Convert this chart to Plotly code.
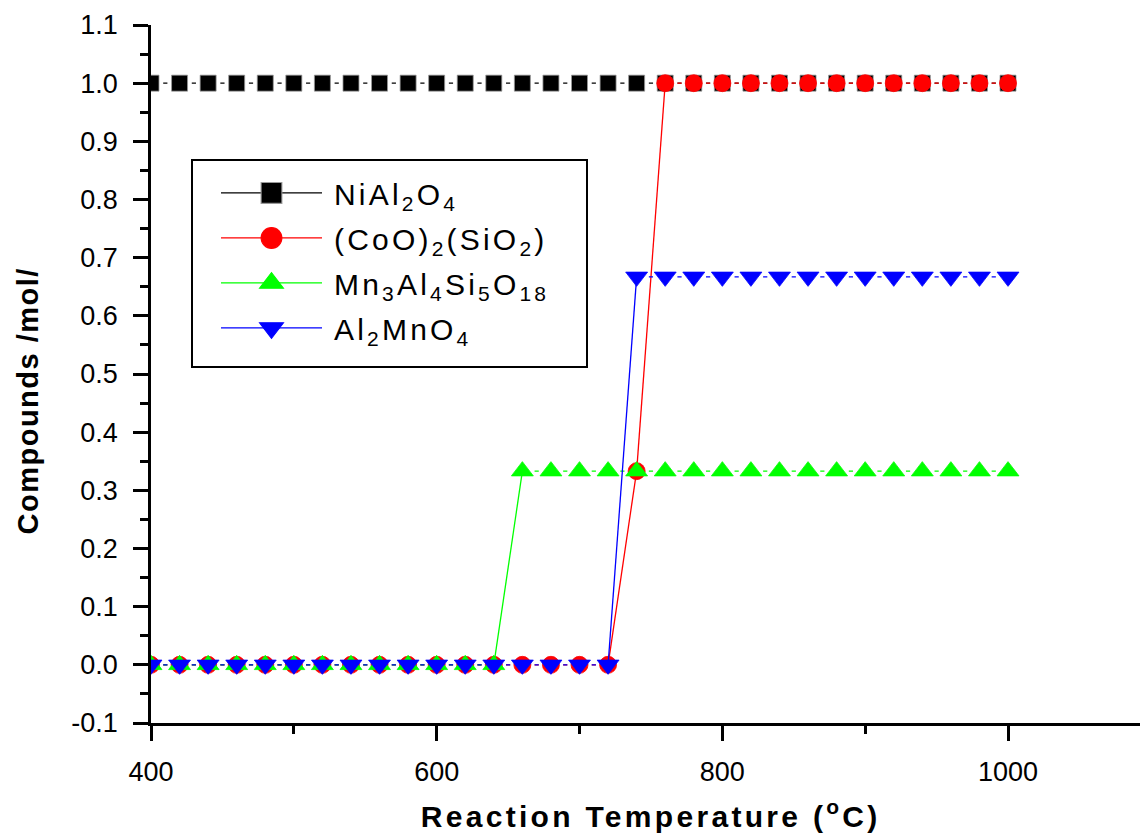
import plotly.graph_objects as go

# ---- data ----
temperature = [400, 420, 440, 460, 480, 500, 520, 540, 560, 580, 600, 620, 640, 660, 680, 700,
               720, 740, 760, 780, 800, 820, 840, 860, 880, 900, 920, 940, 960, 980, 1000]
nial2o4 = [1.0, 1.0, 1.0, 1.0, 1.0, 1.0, 1.0, 1.0, 1.0, 1.0, 1.0, 1.0, 1.0, 1.0, 1.0, 1.0,
           1.0, 1.0, 1.0, 1.0, 1.0, 1.0, 1.0, 1.0, 1.0, 1.0, 1.0, 1.0, 1.0, 1.0, 1.0]
coo2sio2 = [0, 0, 0, 0, 0, 0, 0, 0, 0, 0, 0, 0, 0, 0, 0, 0,
            0, 0.333, 1.0, 1.0, 1.0, 1.0, 1.0, 1.0, 1.0, 1.0, 1.0, 1.0, 1.0, 1.0, 1.0]
mn3al4si5o18 = [0, 0, 0, 0, 0, 0, 0, 0, 0, 0, 0, 0, 0, 0.333, 0.333, 0.333,
                0.333, 0.333, 0.333, 0.333, 0.333, 0.333, 0.333, 0.333, 0.333, 0.333, 0.333, 0.333, 0.333, 0.333, 0.333]
al2mno4 = [0, 0, 0, 0, 0, 0, 0, 0, 0, 0, 0, 0, 0, 0, 0, 0,
           0, 0.667, 0.667, 0.667, 0.667, 0.667, 0.667, 0.667, 0.667, 0.667, 0.667, 0.667, 0.667, 0.667, 0.667]

x_ticks = [400, 600, 800, 1000, 1100]
y_ticks = [-0.1, 0.0, 0.1, 0.2, 0.3, 0.4, 0.5, 0.6, 0.7, 0.8, 0.9, 1.0, 1.1]
y_ticklabels = ["-0.1", "0.0", "0.1", "0.2", "0.3", "0.4", "0.5", "0.6", "0.7", "0.8", "0.9", "1.0", "1.1"]

series_names = ["NiAl<sub>2</sub>O<sub>4</sub>",
                "(CoO)<sub>2</sub>(SiO<sub>2</sub>)",
                "Mn<sub>3</sub>Al<sub>4</sub>Si<sub>5</sub>O<sub>18</sub>",
                "Al<sub>2</sub>MnO<sub>4</sub>"]
series_values = [nial2o4, coo2sio2, mn3al4si5o18, al2mno4]
colors = ["#000000", "#FF0000", "#00FF00", "#0000FF"]
symbols = ["square", "circle", "triangle-up", "triangle-down"]
msizes = [16, 17, 19, 19]
mline = ["#999999", "#FF0000", "#00FF00", "#0000FF"]

FONT = "Liberation Sans, Arial, sans-serif"

# plot-area geometry (pixels) used to place the legend frame
L, T, W, H = 151, 25, 989, 698.2


def px_x(p):
    return (p - L) / W


def px_y(p):
    return (T + H - p) / H


fig = go.Figure()

for k, (name, vals, col, sym, ms, ml) in enumerate(
        zip(series_names, series_values, colors, symbols, msizes, mline)):
    grp = "g%d" % k
    flat_x, flat_y, step_x, step_y = [], [], [], []
    for i in range(len(temperature) - 1):
        seg_x = [temperature[i], temperature[i + 1], None]
        seg_y = [vals[i], vals[i + 1], None]
        if vals[i] == vals[i + 1]:
            flat_x += seg_x
            flat_y += seg_y
        else:
            step_x += seg_x
            step_y += seg_y
    fig.add_trace(go.Scatter(x=flat_x, y=flat_y, mode="lines", showlegend=False,
                             legendgroup=grp, hoverinfo="skip",
                             line=dict(color=col, width=1.3, dash="0px,12.2px,4.2px,40px")))
    if step_x:
        fig.add_trace(go.Scatter(x=step_x, y=step_y, mode="lines", showlegend=False,
                                 legendgroup=grp, hoverinfo="skip",
                                 line=dict(color=col, width=1.3)))
    fig.add_trace(go.Scatter(x=temperature, y=vals, mode="markers", showlegend=False,
                             legendgroup=grp, name=name,
                             marker=dict(symbol=sym, size=ms, color=col,
                                         line=dict(color=ml, width=0.8))))
    fig.add_trace(go.Scatter(x=[None], y=[None], mode="lines+markers", name=name,
                             legendgroup=grp,
                             line=dict(color=col, width=1.3),
                             marker=dict(symbol=sym, size=ms, color=col,
                                         line=dict(color=ml, width=0.8))))

axis_common = dict(showgrid=False, zeroline=False, showline=True, linecolor="black",
                   linewidth=2.5, ticks="outside", ticklen=15, tickwidth=2.5,
                   tickcolor="black", mirror=False, automargin=False,
                   tickfont=dict(family=FONT, size=27, color="black"))

fig.update_xaxes(range=[400, 1092.4], tickvals=x_ticks,
                 ticktext=[str(v) for v in x_ticks],
                 minor=dict(ticks="outside", ticklen=8, tickwidth=2.5, tickcolor="black",
                            dtick=100, tick0=400),
                 ticklabelstandoff=8,
                 **axis_common)
fig.update_yaxes(range=[-0.1, 1.1], tickvals=y_ticks, ticktext=y_ticklabels,
                 minor=dict(ticks="outside", ticklen=8, tickwidth=2.5, tickcolor="black",
                            dtick=0.05, tick0=0),
                 ticklabelstandoff=10,
                 **axis_common)

fig.update_layout(
    width=1140, height=835,
    margin=dict(l=L, r=0, t=T, b=112, autoexpand=False),
    paper_bgcolor="white", plot_bgcolor="white",
    font=dict(family=FONT, color="black"),
    legend=dict(x=px_x(216), y=px_y(167), xref="paper", yref="paper",
                xanchor="left", yanchor="top",
                bgcolor="rgba(0,0,0,0)", borderwidth=0,
                font=dict(family=FONT, size=30, color="black"),
                itemwidth=101, tracegroupgap=3),
    shapes=[dict(type="rect", xref="paper", yref="paper",
                 x0=px_x(192), x1=px_x(587), y0=px_y(367), y1=px_y(160),
                 line=dict(color="black", width=2), fillcolor="white", layer="above")],
    annotations=[
        dict(text="Reaction Temperature (<sup>o</sup>C)", xref="paper", yref="paper",
             x=0.505, y=-0.131, xanchor="center", yanchor="middle", showarrow=False,
             font=dict(family=FONT, size=30, color="black", weight="bold")),
        dict(text="Compounds /mol/", xref="paper", yref="paper",
             x=-0.124, y=0.4615, xanchor="center", yanchor="middle", showarrow=False,
             textangle=-90,
             font=dict(family=FONT, size=29, color="black", weight="bold")),
    ],
)

post = """
var gd = document.getElementById('{plot_id}');
var st = document.createElement('style');
st.textContent = '.legendtext{letter-spacing:3.2px;}';
document.head.appendChild(st);
function fixup(){
  gd.querySelectorAll('.annotation-text').forEach(function(e){
    e.style.letterSpacing = e.textContent.indexOf('Reaction') >= 0 ? '3.3px' : '1.5px';
  });
  gd.querySelectorAll('.legend [clip-path]').forEach(function(e){ e.removeAttribute('clip-path'); });
  gd.querySelectorAll('.legend path.scatterpts').forEach(function(p){
    var t = p.getAttribute('transform') || '';
    if (t.indexOf('scale') < 0) p.setAttribute('transform', t + ' scale(1.3)');
  });
  gd.querySelectorAll('.legend text.legendtext').forEach(function(e){
    var t = e.getAttribute('transform') || '';
    if (t.indexOf('translate(7') < 0) e.setAttribute('transform', 'translate(7,0) ' + t);
  });
}
fixup();
if (gd.on) gd.on('plotly_afterplot', fixup);
"""
fig.write_html("out.html", post_script=post)
